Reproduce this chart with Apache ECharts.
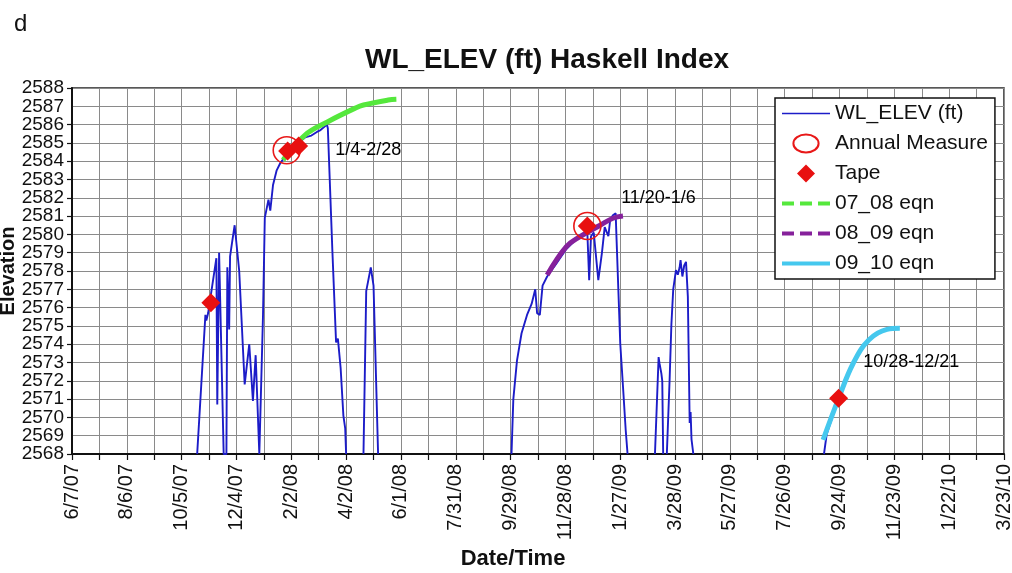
<!DOCTYPE html>
<html><head><meta charset="utf-8">
<script src="https://cdn.jsdelivr.net/npm/echarts@6.0.0/dist/echarts.min.js"></script>
<style>html,body{margin:0;padding:0;background:#fff}#c{width:1012px;height:573px}</style>
</head><body><div id="c"></div>
<script>
// ---------- data ----------
const xTickLabels = ['6/7/07','8/6/07','10/5/07','12/4/07','2/2/08','4/2/08','6/1/08','7/31/08','9/29/08',
  '11/28/08','1/27/09','3/28/09','5/27/09','7/26/09','9/24/09','11/23/09','1/22/10','3/23/10'];

// WL_ELEV (ft) logger record; null value = gap (water level below the plotted range)
const wlDates = [
  '2007-10-22','2007-10-31','2007-11-01','2007-11-03','2007-11-12','2007-11-13','2007-11-15','2007-11-20',
  '2007-11-23','2007-11-24','2007-11-26','2007-11-27','2007-11-29','2007-12-02','2007-12-07','2007-12-13',
  '2007-12-18','2007-12-22','2007-12-25','2007-12-29','2007-12-30','2008-01-02','2008-01-04','2008-01-08',
  '2008-01-10','2008-01-13','2008-01-17','2008-01-21','2008-01-24','2008-02-05','2008-02-17','2008-02-24',
  '2008-03-01','2008-03-05','2008-03-12','2008-03-13','2008-03-18','2008-03-22','2008-03-24','2008-03-27',
  '2008-03-30','2008-04-01','2008-04-02','2008-04-10',
  '2008-04-21','2008-04-24','2008-04-29','2008-05-02','2008-05-07','2008-07-01',
  '2008-09-30','2008-10-02','2008-10-06','2008-10-11','2008-10-17','2008-10-22','2008-10-26','2008-10-28',
  '2008-10-31','2008-11-03','2008-11-08','2008-11-18','2008-11-29','2008-12-07','2008-12-14','2008-12-22',
  '2008-12-24','2008-12-26','2008-12-29','2009-01-03','2009-01-07','2009-01-10','2009-01-14','2009-01-16',
  '2009-01-19','2009-01-22','2009-01-23','2009-01-27','2009-01-30','2009-02-02','2009-02-04','2009-02-20',
  '2009-03-06','2009-03-10','2009-03-11','2009-03-13','2009-03-14','2009-03-15','2009-03-17',
  '2009-03-19','2009-03-22','2009-03-24','2009-03-26','2009-03-29','2009-03-31','2009-04-02','2009-04-03',
  '2009-04-05','2009-04-07','2009-04-09','2009-04-11','2009-04-13','2009-04-14','2009-04-15','2009-04-16',
  '2009-04-17','2009-07-01',
  '2009-09-07','2009-09-10','2009-09-16','2009-09-23'];
const wlValues = [
  2568,2575.6,2575.3,2575.7,2578.7,2570.7,2579.0,2568,
  2568,2578.2,2574.8,2578.8,2579.5,2580.5,2578.0,2571.8,
  2574.0,2570.9,2573.4,2568,2568,2575.5,2580.9,2581.9,
  2581.3,2582.7,2583.5,2583.9,2584.1,2584.8,2585.3,2585.4,
  2585.6,2585.7,2586.0,2585.8,2579.05,2574.1,2574.3,2572.7,
  2570.1,2569.4,2568,null,
  2568,2576.9,2578.2,2577.2,2568,null,
  2568,2571.0,2573.1,2574.6,2575.6,2576.2,2577.0,2575.7,
  2575.6,2577.2,2577.7,2578.4,2579.2,2579.6,2579.9,2580.1,
  2577.5,2579.9,2580.1,2577.5,2579.0,2580.4,2579.9,2580.8,
  2581.05,2581.15,2579.7,2574.05,2571.7,2569.3,2568,null,
  2568,2573.3,2572.95,2572.4,2572.0,2568,null,
  2568,2572.0,2575.1,2577.0,2578.05,2577.8,2578.2,2578.6,
  2577.7,2578.3,2578.5,2576.6,2569.7,2570.3,2568.8,2568.8,
  2568,null,
  2568,2569.1,2570.0,2571.0];

const eq0708Dates  = ['2008-01-24','2008-02-17','2008-03-13','2008-04-12','2008-04-21','2008-05-18','2008-05-27'];
const eq0708Values = [2584.07,2585.43,2586.16,2586.9,2587.07,2587.34,2587.38];
const eq0809Dates  = ['2008-11-08','2008-11-29','2008-12-14','2009-01-05','2009-01-19','2009-01-30'];
const eq0809Values = [2577.78,2579.33,2579.88,2580.5,2580.88,2581.0];
const eq0910Dates  = ['2009-09-06','2009-09-23','2009-10-09','2009-10-26','2009-11-15','2009-11-29'];
const eq0910Values = [2568.77,2571.04,2572.96,2574.23,2574.81,2574.87];

const annualDates  = ['2008-01-28','2008-12-22'];
const annualValues = [2584.6,2580.46];
const tapeDates    = ['2007-11-06','2008-01-29','2008-02-10','2008-12-22','2009-09-23'];
const tapeValues   = [2576.27,2584.56,2584.83,2580.46,2571.04];

const noteTexts  = ['1/4-2/28','11/20-1/6','10/28-12/21'];
const noteDates  = ['2008-03-21','2009-01-28','2009-10-20'];
const noteValues = [2584.6,2582.0,2573.0];

// ---------- helpers ----------
const START = '2007-06-07';
const toDay = s => (Date.parse(s) - Date.parse(START)) / 86400000;
const pairs = (ds, vs) => ds.map((d, i) => [toDay(d), vs[i] == null ? '-' : vs[i]]);
const FONT = '"Liberation Sans", Arial, Helvetica, sans-serif';
const INK = '#111';
const Y_MIN = 2568, Y_MAX = 2588;
const HIDE_SYMBOL = {color: 'rgba(0,0,0,0)', borderWidth: 0, opacity: 0};
// legend icons (outer M points fix the icon box so the shape keeps its size)
const ICON_DIAMOND = 'path://M0,0L0,0M48,18L48,18M24,0L33,9L24,18L15,9Z';
const ICON_ELLIPSE = 'path://M0,0L0,0M48,20L48,20M10,10C10,4.48 16.27,0 24,0C31.73,0 38,4.48 38,10C38,15.52 31.73,20 24,20C16.27,20 10,15.52 10,10Z';
const yLabelStyle = {margin: 8, fontSize: 19, color: INK, fontFamily: FONT, hideOverlap: false};

const chart = echarts.init(document.getElementById('c'), null, {renderer: 'canvas'});
chart.setOption({
  animation: false,
  backgroundColor: '#fff',
  textStyle: {fontFamily: FONT},
  title: [
    {text: 'd', left: 9, top: 7, textStyle: {fontFamily: FONT, fontSize: 24, fontWeight: 'normal', color: INK}},
    {text: 'WL_ELEV (ft) Haskell Index', left: 542, top: 41, textAlign: 'center',
     textStyle: {fontFamily: FONT, fontSize: 28, fontWeight: 'bold', color: INK}}
  ],
  grid: {left: 72, right: 8, top: 88, bottom: 119, outerBoundsMode: 'none', containLabel: false,
         show: true, borderColor: '#222', borderWidth: 1.5, backgroundColor: 'transparent'},
  legend: {
    orient: 'vertical', left: 775, top: 98, padding: [5, 7, 5, 5],
    itemWidth: 48, itemHeight: 18, itemGap: 9,
    backgroundColor: '#fff', borderColor: INK, borderWidth: 1.5,
    textStyle: {fontFamily: FONT, fontSize: 21, color: INK},
    data: [
      {name: 'WL_ELEV (ft)', lineStyle: {width: 1.5}, itemStyle: HIDE_SYMBOL},
      {name: 'Annual Measure', icon: ICON_ELLIPSE},
      {name: 'Tape', icon: ICON_DIAMOND},
      {name: '07_08 eqn', lineStyle: {width: 4, type: [12, 6]}, itemStyle: HIDE_SYMBOL},
      {name: '08_09 eqn', lineStyle: {width: 4, type: [12, 6]}, itemStyle: HIDE_SYMBOL},
      {name: '09_10 eqn', lineStyle: {width: 4}, itemStyle: HIDE_SYMBOL}
    ]
  },
  xAxis: {
    type: 'value', min: 0, max: 1020, interval: 30,
    name: 'Date/Time', nameLocation: 'middle', nameGap: 94, nameMoveOverlap: false,
    nameTextStyle: {fontFamily: FONT, fontSize: 22, fontWeight: 'bold', color: INK, padding: [0, 50, 0, 0]},
    axisLine: {onZero: false, lineStyle: {color: INK, width: 2}},
    axisTick: {show: true, inside: false, length: 6, lineStyle: {color: INK, width: 1.2}},
    axisLabel: {rotate: 90, margin: 10, fontSize: 20, color: INK, fontFamily: FONT,
      showMinLabel: true, showMaxLabel: true,
      formatter: v => { const d = Math.round(v); return d % 60 === 0 ? (xTickLabels[d / 60] || '') : ''; }},
    splitLine: {show: true, lineStyle: {color: '#8a8a8a', width: 1}}
  },
  yAxis: [
    {
      type: 'value', min: Y_MIN, max: Y_MAX, interval: 1, position: 'left',
      name: 'Elevation', nameLocation: 'middle', nameGap: 54, nameMoveOverlap: false,
      nameTextStyle: {fontFamily: FONT, fontSize: 20, fontWeight: 'bold', color: INK},
      axisLine: {show: true, lineStyle: {color: INK, width: 2}},
      axisTick: {show: true, inside: false, length: 5, lineStyle: {color: INK, width: 1.2}},
      axisLabel: Object.assign({showMinLabel: true, showMaxLabel: true, formatter: v => String(v)}, yLabelStyle),
      splitLine: {show: true, lineStyle: {color: '#8a8a8a', width: 1}}
    },
    {
      // companion axis: prints the two labels next to the range ends that the first axis drops
      type: 'value', min: Y_MIN, max: Y_MAX, interval: 1, position: 'left', offset: 0,
      axisLine: {show: false}, axisTick: {show: false}, splitLine: {show: false},
      axisLabel: Object.assign({showMinLabel: false, showMaxLabel: false,
        formatter: v => (v === Y_MIN + 1 || v === Y_MAX - 1) ? String(v) : ''}, yLabelStyle)
    }
  ],
  series: [
    {name: 'WL_ELEV (ft)', type: 'line', data: pairs(wlDates, wlValues), symbol: 'none', z: 2,
     lineStyle: {color: '#1c1cc8', width: 1.9}, itemStyle: {color: '#1c1cc8'}, clip: true, emphasis: {disabled: true}},
    {name: '07_08 eqn', type: 'line', data: pairs(eq0708Dates, eq0708Values), symbol: 'none', smooth: 0.4, z: 3,
     lineStyle: {color: '#55e83c', width: 5}, itemStyle: {color: '#55e83c'}, emphasis: {disabled: true}},
    {name: '08_09 eqn', type: 'line', data: pairs(eq0809Dates, eq0809Values), symbol: 'none', smooth: 0.4, z: 3,
     lineStyle: {color: '#86219b', width: 5}, itemStyle: {color: '#86219b'}, emphasis: {disabled: true}},
    {name: '09_10 eqn', type: 'line', data: pairs(eq0910Dates, eq0910Values), symbol: 'none', smooth: 0.4, z: 3,
     lineStyle: {color: '#45c8ee', width: 5}, itemStyle: {color: '#45c8ee'}, emphasis: {disabled: true}},
    {name: 'Annual Measure', type: 'scatter', data: pairs(annualDates, annualValues), symbol: 'circle', symbolSize: 27, z: 4,
     itemStyle: {color: 'rgba(255,255,255,0)', borderColor: '#e81818', borderWidth: 1.6, opacity: 1}, emphasis: {disabled: true}},
    {name: 'Tape', type: 'scatter', data: pairs(tapeDates, tapeValues), symbol: 'diamond', symbolSize: 19,
     z: 5, itemStyle: {color: '#e81010', opacity: 1}, emphasis: {disabled: true}},
    {name: 'notes', type: 'scatter', silent: true, symbolSize: 0, z: 6,
     itemStyle: {opacity: 1},
     data: noteDates.map((d, i) => [toDay(d), noteValues[i], noteTexts[i]]),
     label: {show: true, position: 'right', distance: 0, fontFamily: FONT, fontSize: 18, color: '#000',
       formatter: p => p.data[2]}}
  ]
});
</script></body></html>
